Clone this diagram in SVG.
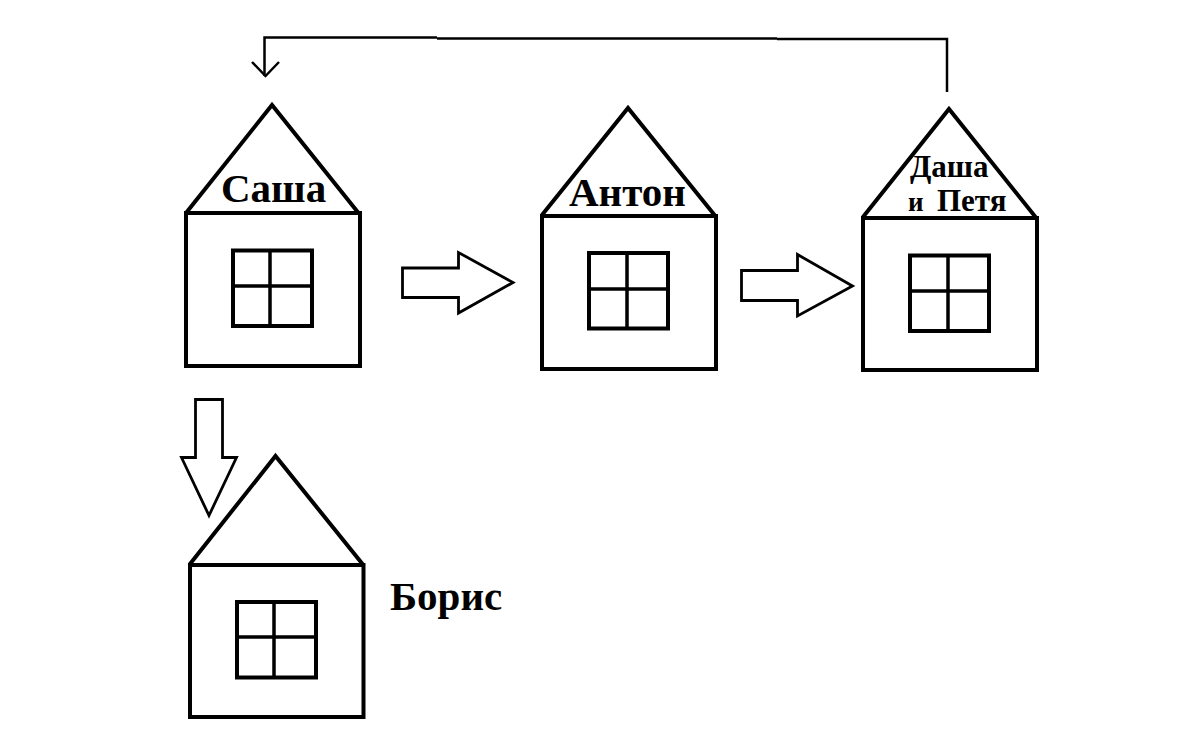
<svg xmlns="http://www.w3.org/2000/svg" width="1200" height="749" viewBox="0 0 1200 749">
<style>
.f{fill:none;stroke:#000;stroke-width:4;stroke-linejoin:miter}
.m{fill:none;stroke:#000;stroke-width:3.5}
.a{fill:#fff;stroke:#000;stroke-width:2.800;stroke-linejoin:miter}
.c{fill:none;stroke:#000;stroke-width:2.500}
text{font-family:"Liberation Serif","Noto Sans CJK SC",serif;font-weight:bold;fill:#000}
</style>
<rect width="1200" height="749" fill="#fff"/>
<g id="house-sasha">
<path class="f" d="M186 213L272 105L358.500 213"/>
<rect class="f" x="186" y="213" width="174" height="153"/>
<rect class="f" x="233" y="250.500" width="79" height="75.500"/>
<path class="m" d="M270 250V326M233 286H312"/>
<text x="221" y="202" font-size="41">Саша</text>
</g>
<g id="house-anton">
<path class="f" d="M542 215L628 108L714.500 215"/>
<rect class="f" x="542" y="216" width="174" height="153"/>
<rect class="f" x="589" y="253" width="79" height="75.500"/>
<path class="m" d="M627 253V329M589 289H668"/>
<text x="569" y="206" font-size="41">Антон</text>
</g>
<g id="house-dasha-petya">
<path class="f" d="M863 217L949 109L1035.500 217"/>
<rect class="f" x="863" y="218" width="174" height="152"/>
<rect class="f" x="910" y="255.500" width="79" height="75.500"/>
<path class="m" d="M948 255V331M910 291H989"/>
<text x="910" y="177" font-size="31">Даша</text>
<text x="908" y="211" font-size="27">и</text>
<text x="937" y="211" font-size="31">Петя</text>
</g>
<g id="house-boris">
<path class="f" d="M190 564L275.500 456L362.500 564"/>
<rect class="f" x="190" y="565" width="173.500" height="152"/>
<rect class="f" x="237" y="602" width="79" height="75.500"/>
<path class="m" d="M274 602V677M237 637H316"/>
<text x="390" y="610" font-size="41">Борис</text>
</g>
<g id="connectors">
<path class="a" d="M402.500 268H458.500V252.500L513 282.500L458.500 313V297.500H402.500Z"/>
<path class="a" d="M741.500 270.500H797.500V254.500L852.500 286L797.500 316V300.500H741.500Z"/>
<path class="a" d="M195.500 399.500H222.500V457.500H236.500L209 515.500L181.500 457.500H195.500Z"/>
<path class="c" d="M947 92V39H777"/>
<path class="c" d="M777 38.500H437"/>
<path class="c" d="M437 37.500H264.500V76"/>
<path class="c" d="M252 62L265.500 76L279 62"/>
</g>
</svg>
